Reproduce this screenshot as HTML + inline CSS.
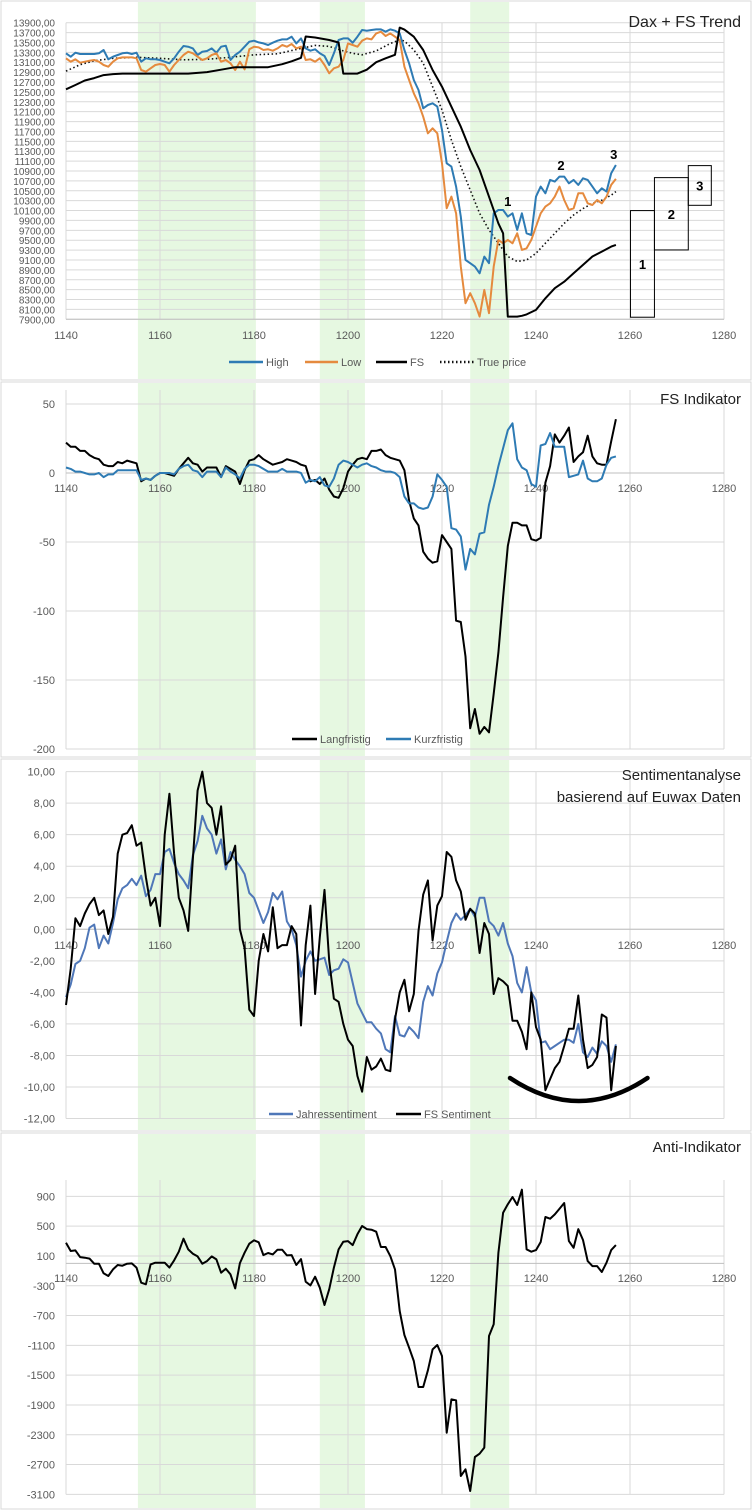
<!DOCTYPE html>
<html><head><meta charset="utf-8"><style>
html,body{margin:0;padding:0;background:#fff}
svg{display:block}
text{font-family:"Liberation Sans",sans-serif}
</style></head><body>
<svg id="chart" width="752" height="1510" viewBox="0 0 752 1510" xmlns="http://www.w3.org/2000/svg"></svg>
<script>
// ---------- data ----------
const days = [];
for (let d = 1140; d <= 1257; d++) days.push(d);
const xTicks = [1140,1160,1180,1200,1220,1240,1260,1280];
const greenBands = [[1155.3,1180.4],[1194,1203.6],[1226,1234.3]];

// Panel 1: Dax + FS Trend
const highVals = [13280,13213,13293,13266,13266,13266,13266,13280,13347,13159,
13213,13246,13280,13293,13266,13293,13111,13179,13159,13159,
13145,13111,13078,13179,13314,13428,13415,13381,13246,13314,
13327,13381,13293,13415,13435,13145,13246,13314,13415,13516,
13536,13502,13482,13448,13496,13536,13563,13563,13617,13482,
13583,13381,13334,13361,13280,13226,13044,13280,13550,13583,
13583,13496,13617,13752,13738,13752,13765,13765,13718,13765,
13738,13684,13347,13078,12741,12539,12168,12235,12269,12202,
11730,11056,10988,10584,9977,9101,9034,8966,8831,9169,
9034,10045,10112,10112,9977,10045,9708,10045,9640,9606,
10382,10584,10449,10719,10685,10786,10786,10651,10719,10618,
10752,10719,10584,10449,10550,10483,10854,11022];
const lowVals = [13179,13111,13159,13091,13111,13132,13145,13111,13044,13010,
13111,13179,13199,13199,13199,13179,12943,12909,12977,13044,
13064,13044,12909,13044,13145,13246,13314,13280,13213,13145,
13179,13246,13280,13111,13145,13078,12943,13111,12956,13361,
13415,13401,13347,13361,13334,13381,13448,13415,13469,13381,
13415,13145,13159,13111,13179,13044,12876,12977,13010,13145,
13482,13448,13415,13536,13583,13563,13684,13718,13630,13684,
13617,13550,13010,12741,12471,12269,11999,11662,11763,11662,
11056,10146,10382,10045,8966,8225,8427,8225,7955,8495,
8023,8966,9506,9438,9506,9438,9640,9303,9337,9506,
9775,10045,10180,10247,10382,10584,10314,10112,10146,10449,
10449,10247,10213,10314,10247,10382,10618,10740];
const fsDays = [1140,1142,1144,1146,1148,1150,1152,1160,1166,1170,1173,1176,1183,1186,1188,1190,1191,1193,1196,1198,1199,1202,1204,1206,1208,1210,1211,1212,1214,1216,1218,1220,1222,1224,1226,1228,1230,1232,1233,1234,1236,1237,1238,1240,1242,1244,1246,1248,1250,1252,1254,1256,1257];
const fsVals = [12552,12640,12730,12780,12840,12860,12870,12870,12870,12900,12950,13000,13000,13060,13120,13190,13620,13600,13550,13500,12870,12870,12950,13100,13180,13250,13800,13760,13617,13347,12943,12606,12200,11797,11325,10920,10380,9840,9640,7955,7955,7970,8000,8090,8325,8530,8660,8830,9000,9170,9270,9370,9405];
const trueDays = [1140,1143,1146,1150,1155,1160,1165,1170,1175,1180,1185,1190,1193,1196,1199,1201,1203,1206,1209,1211,1212,1214,1216,1218,1220,1222,1224,1226,1228,1230,1232,1234,1236,1238,1240,1242,1244,1246,1248,1250,1252,1254,1256,1257];
const trueVals = [12920,13050,13130,13180,13200,13180,13150,13160,13200,13250,13270,13380,13440,13420,13330,13280,13250,13330,13480,13550,13530,13350,13080,12606,12134,11527,10990,10516,10045,9708,9440,9170,9070,9100,9236,9440,9640,9840,10010,10140,10247,10310,10410,10483];
const boxX0 = [1260.1,1265.2,1272.4];
const boxX1 = [1265.2,1272.4,1277.3];
const boxLow = [7942,9303,10206];
const boxHigh = [10099,10766,11009];
const boxLabels = ["1","2","3"];
const p1Ticks = [];
for (let v = 13900; v >= 7900; v -= 200) p1Ticks.push(v);

// Panel 2: FS Indikator
const langVals = [22,19,19,16,16,13,11,10,6,5,5,8,7,9,8,7,-6,-4,-5,-2,0,0,-1,-2,3,7,11,7,6,1,4,4,4,-3,5,3,1,-8,2,9,10,13,10,8,6,7,8,10,9,8,6,5,-6,-5,-8,-4,-12,-17,-18,-11,1,6,10,11,10,16,16,17,13,11,10,9,2,-20,-33,-38,-57,-62,-65,-64,-45,-50,-55,-107,-108,-133,-185,-171,-189,-184,-188,-160,-130,-90,-53,-36,-36,-38,-38,-48,-49,-47,-7,5,28,22,27,33,8,12,15,27,12,7,6,6,23,39];
const kurzVals = [4,3,1,1,0,-1,-1,0,-3,-1,-1,2,2,2,2,2,-5,-4,-5,-2,0,0,0,-1,3,5,6,2,1,-3,1,1,1,-3,4,1,-1,-4,3,6,6,5,3,1,1,1,3,1,1,1,0,-7,-5,-6,-3,-9,-10,-4,6,9,8,6,4,6,7,5,4,2,1,1,0,-3,-17,-22,-22,-25,-26,-25,-17,-1,-5,-10,-40,-41,-46,-70,-55,-59,-44,-43,-23,-10,5,18,31,36,10,4,2,-8,-10,20,21,29,19,19,19,-3,-2,-1,9,-4,-6,-6,-4,6,11,12];
const p2Ticks = [50,0,-50,-100,-150,-200];

// Panel 3: Sentiment
const fsSentVals = [-4.8,-2.5,0.7,0.2,1.0,1.6,2.0,0.9,1.2,-0.3,0.8,4.8,6.0,6.1,6.6,5.3,5.5,3.3,1.5,2.0,0.2,6.0,8.6,4.8,2.0,1.2,-0.1,4.5,8.8,10.0,8.0,7.7,6.0,7.8,4.1,4.4,5.3,0.0,-1.2,-5.1,-5.5,-2.0,-0.3,-1.4,1.4,-1.2,-1.0,-1.0,0.2,-0.3,-6.1,-1.0,1.5,-4.1,-0.5,2.5,-2.0,-4.4,-4.6,-6.0,-7.0,-7.4,-9.3,-10.3,-8.1,-8.9,-8.7,-8.2,-8.9,-9.0,-5.7,-4.0,-3.2,-5.2,-4.1,-0.1,2.2,3.1,-0.7,1.5,2.1,4.9,4.6,3.1,2.4,0.6,1.3,1.0,-1.5,0.4,-0.3,-4.1,-3.1,-3.3,-3.6,-5.8,-5.8,-6.5,-7.6,-4.0,-6.2,-7.0,-10.2,-9.5,-8.8,-8.4,-7.4,-6.3,-6.3,-4.2,-7.0,-8.8,-8.6,-8.1,-5.4,-5.6,-10.2,-7.4];
const jahrVals = [-4.3,-3.5,-2.2,-2.0,-1.2,0.1,0.3,-1.2,-0.4,-0.9,0.4,1.9,2.6,2.8,3.2,2.8,3.4,2.1,2.5,3.5,3.5,4.9,5.1,4.2,3.5,3.1,2.6,4.7,5.6,7.2,6.4,6.0,4.8,5.7,3.8,4.9,4.4,4.0,3.5,2.3,2.0,1.2,0.4,1.1,2.3,1.9,2.4,0.5,0.0,-1.0,-3.0,-2.0,-1.4,-2.0,-1.9,-1.8,-2.9,-2.6,-2.5,-1.9,-2.1,-3.4,-4.7,-5.3,-5.9,-5.9,-6.3,-6.6,-7.6,-7.8,-5.5,-6.7,-6.8,-6.2,-6.5,-6.9,-4.6,-3.6,-4.2,-2.8,-2.1,-0.8,0.4,1.0,0.6,0.9,1.3,0.8,2.0,2.0,0.5,0.2,-0.4,0.4,-0.9,-1.7,-3.4,-4.0,-2.4,-4.0,-4.5,-7.2,-7.1,-7.6,-7.4,-7.2,-7.0,-7.0,-7.2,-6.0,-7.8,-8.1,-7.5,-7.9,-7.1,-7.4,-8.4,-7.3];
const p3Ticks = [10,8,6,4,2,0,-2,-4,-6,-8,-10,-12];

// Panel 4: Anti-Indikator
const antiVals = [278,166,175,85,77,64,-4,-4,-133,-169,-80,-22,-31,-4,0,-57,-259,-281,-13,9,9,9,-57,40,157,332,188,130,94,-4,31,94,54,-125,-71,-147,-335,4,143,265,310,283,112,139,121,184,184,107,112,-22,58,-245,-295,-178,-326,-559,-348,-57,188,291,300,246,390,502,461,453,426,220,220,98,-80,-639,-961,-1131,-1310,-1659,-1659,-1435,-1154,-1095,-1243,-2272,-1825,-1838,-2854,-2764,-3055,-2599,-2554,-2473,-975,-818,143,681,793,891,784,989,188,157,179,287,623,600,658,734,811,300,210,461,314,31,-36,-36,-116,9,179,246];
const p4Ticks = [900,500,100,-300,-700,-1100,-1500,-1900,-2300,-2700,-3100];

// ---------- helpers ----------
const NS = "http://www.w3.org/2000/svg";
const svg = document.getElementById("chart");
function mk(tag, attrs, parent) {
  const e = document.createElementNS(NS, tag);
  for (const k in attrs) e.setAttribute(k, attrs[k]);
  (parent || svg).appendChild(e);
  return e;
}
const X = v => 66 + (v - 1140) * 4.7;
const Y1 = v => 22.7 + (13900 - v) * 296.6 / 6000;
const Y2 = v => 473 - v * 69 / 50;
const Y3 = v => 929.3 - v * 15.77;
const Y4 = v => 1263.4 - v * 0.0745;
const GRID = "#d9d9d9", LBL = "#595959";
const fmt2 = v => v.toFixed(2).replace(".", ",");

function panelFrame(name, top, bottom) {
  const r = mk("rect", {x: 1, y: top, width: 750, height: bottom - top, fill: "#fff", stroke: "#d9d9d9", "stroke-width": 1});
  
  
  greenBands.forEach(b => {
    const g = mk("rect", {x: X(b[0]), y: top + 1, width: X(b[1]) - X(b[0]), height: bottom - top - 2, fill: "#e6f8e1"});
    
    
  });
}
function hGrid(name, ticks, Yf, labelFn, fontSize) {
  ticks.forEach(t => {
    const l = mk("line", {x1: X(1140), x2: X(1280), y1: Yf(t), y2: Yf(t), stroke: GRID, "stroke-width": 1});
    
    
    const tx = mk("text", {x: 55, y: Yf(t) + 4, "text-anchor": "end", "font-size": fontSize, fill: LBL});
    tx.textContent = labelFn(t);
    
    
  });
}
function vGrid(name, yTop, yBot, labelY) {
  xTicks.forEach(t => {
    const l = mk("line", {x1: X(t), x2: X(t), y1: yTop, y2: yBot, stroke: GRID, "stroke-width": 1});
    
    
    const tx = mk("text", {x: X(t), y: labelY, "text-anchor": "middle", "font-size": 11, fill: LBL});
    tx.textContent = t;
    
    
  });
}
function axisLine(name, y) {
  const l = mk("line", {x1: X(1140), x2: X(1280), y1: y, y2: y, stroke: "#bfbfbf", "stroke-width": 1});
  
  
}
function series(name, xs, ys, Yf, color, width, dash) {
  const d = xs.map((v, i) => (i ? "L" : "M") + X(v).toFixed(1) + "," + Yf(ys[i]).toFixed(1)).join("");
  const p = mk("path", {d: d, fill: "none", stroke: color, "stroke-width": width, "stroke-linejoin": "round"});
  if (dash) p.setAttribute("stroke-dasharray", dash);
  
  
  return p;
}
function title(name, lines, y0, size) {
  lines.forEach((s, i) => {
    const t = mk("text", {x: 741, y: y0 + i * 22, "text-anchor": "end", "font-size": size, fill: "#222"});
    t.textContent = s;
    
    
  });
}
function legendEntry(name, x1, x2, y, color, label, dash) {
  const g = mk("g", {});
  
  
  const l = mk("line", {x1: x1, x2: x2, y1: y, y2: y, stroke: color, "stroke-width": 2.5}, g);
  if (dash) l.setAttribute("stroke-dasharray", dash);
  const t = mk("text", {x: x2 + 3, y: y + 4, "font-size": 11, fill: LBL}, g);
  t.textContent = label;
}

// ---------- Panel 1 ----------
panelFrame("dax-panel", 1, 380);
hGrid("dax-panel", p1Ticks, Y1, fmt2, 10);
vGrid("dax-panel", Y1(13900), Y1(7900), 339);
axisLine("dax-panel", Y1(7900));
series("true-price-line", trueDays, trueVals, Y1, "#111", 1.6, "1.5 2.5");
series("high-line", days, highVals, Y1, "#2e7bb4", 2);
series("low-line", days, lowVals, Y1, "#e58a3e", 2);
series("fs-line", fsDays, fsVals, Y1, "#000", 2);
boxX0.forEach((b, i) => {
  const r = mk("rect", {x: X(b), y: Y1(boxHigh[i]), width: X(boxX1[i]) - X(b), height: Y1(boxLow[i]) - Y1(boxHigh[i]), fill: "none", stroke: "#000", "stroke-width": 1});
  
  
  const t = mk("text", {x: (X(b) + X(boxX1[i])) / 2, y: (Y1(boxHigh[i]) + Y1(boxLow[i])) / 2 + 5, "text-anchor": "middle", "font-size": 13, "font-weight": "bold"});
  t.textContent = boxLabels[i];
  
  
});
[[507.7, 206, "1"], [561, 170, "2"], [613.7, 159, "3"]].forEach(a => {
  const t = mk("text", {x: a[0], y: a[1], "text-anchor": "middle", "font-size": 13, "font-weight": "bold"});
  t.textContent = a[2];
  
  
});
title("dax-panel-title", ["Dax + FS Trend"], 27, 16);
legendEntry("legend-high", 229, 263, 362, "#2e7bb4", "High");
legendEntry("legend-low", 305, 338, 362, "#e58a3e", "Low");
legendEntry("legend-fs", 376, 407, 362, "#000", "FS");
legendEntry("legend-true-price", 440, 474, 362, "#111", "True price", "1.5 2.5");

// ---------- Panel 2 ----------
panelFrame("fs-indikator-panel", 382, 757);
hGrid("fs-indikator-panel", p2Ticks, Y2, v => String(v), 11);
vGrid("fs-indikator-panel", 390, Y2(-200), 492);
axisLine("fs-indikator-panel", Y2(0));
series("langfristig-line", days, langVals, Y2, "#000", 2);
series("kurzfristig-line", days, kurzVals, Y2, "#2e7bb4", 2);
title("fs-indikator-title", ["FS Indikator"], 404, 15);
legendEntry("legend-langfristig", 292, 317, 739, "#000", "Langfristig");
legendEntry("legend-kurzfristig", 386, 411, 739, "#2e7bb4", "Kurzfristig");

// ---------- Panel 3 ----------
panelFrame("sentiment-panel", 759, 1131);
hGrid("sentiment-panel", p3Ticks, Y3, fmt2, 11);
vGrid("sentiment-panel", Y3(10), Y3(-12), 949);
axisLine("sentiment-panel", Y3(0));
series("jahressentiment-line", days, jahrVals, Y3, "#4f77b8", 2);
series("fs-sentiment-line", days, fsSentVals, Y3, "#000", 2);
const arc = mk("path", {d: "M510,1078 Q579,1124 647.5,1078", fill: "none", stroke: "#000", "stroke-width": 4.5, "stroke-linecap": "round"});


title("sentiment-panel-title", ["Sentimentanalyse", "basierend auf Euwax Daten"], 780, 15);
legendEntry("legend-jahressentiment", 269, 293, 1114, "#4f77b8", "Jahressentiment");
legendEntry("legend-fs-sentiment", 396, 421, 1114, "#000", "FS Sentiment");

// ---------- Panel 4 ----------
panelFrame("anti-indikator-panel", 1133, 1509);
hGrid("anti-indikator-panel", p4Ticks, Y4, v => String(v), 11);
vGrid("anti-indikator-panel", 1180, Y4(-3100), 1282);
axisLine("anti-indikator-panel", Y4(0));
series("anti-indikator-line", days, antiVals, Y4, "#000", 2);
title("anti-indikator-title", ["Anti-Indikator"], 1152, 15);
</script>
</body></html>
